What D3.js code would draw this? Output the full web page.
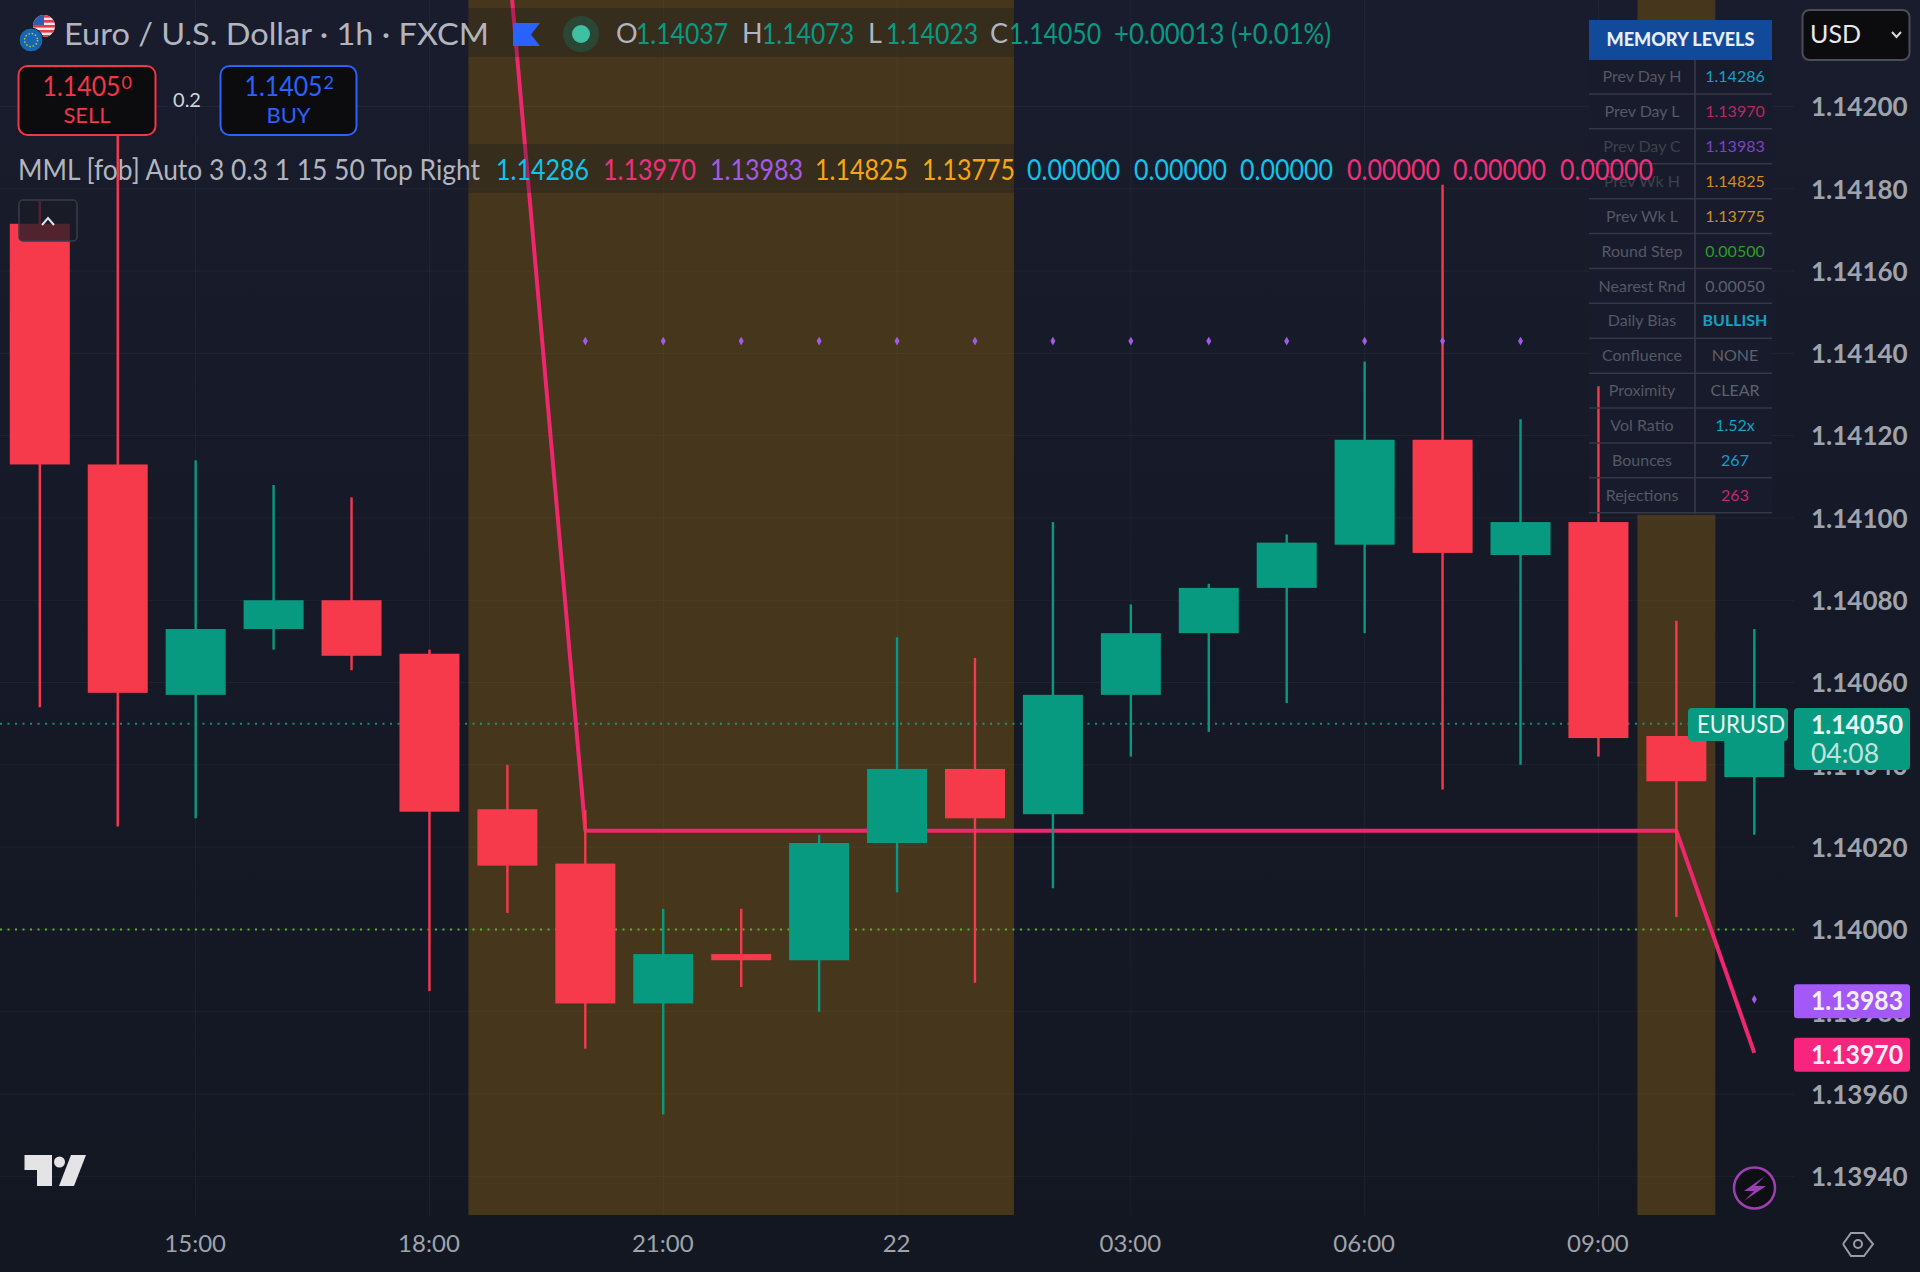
<!DOCTYPE html>
<html>
<head>
<meta charset="utf-8">
<script src="https://cdnjs.cloudflare.com/ajax/libs/d3/7.8.5/d3.min.js"></script>
<style>
  html, body { margin: 0; padding: 0; background: #131722; }
  svg { display: block; font-family: "Lato", "Noto Sans", sans-serif; }
</style>
</head>
<body>
<div id="chart"></div>
<script>
const hours = ["13:00","14:00","15:00","16:00","17:00","18:00","19:00","20:00","21:00","22:00","23:00","22","01:00","02:00","03:00","04:00","05:00","06:00","07:00","08:00","09:00","10:00","11:00"];
const opens  = [1.141715,1.14113,1.14057,1.14073,1.14080,1.14067,1.140292,1.14016,1.13982,1.13994,1.139925,1.14021,1.14039,1.14028,1.14057,1.14072,1.14083,1.140935,1.14119,1.14091,1.14099,1.14047,1.14037];
const highs  = [1.14177,1.14193,1.14114,1.14108,1.14105,1.14068,1.14040,1.14029,1.14005,1.14005,1.14023,1.14071,1.14066,1.14099,1.14079,1.14084,1.14096,1.14138,1.14181,1.14124,1.14132,1.14075,1.14073];
const lows   = [1.14054,1.14025,1.14027,1.14068,1.14063,1.13985,1.14004,1.13971,1.13955,1.13986,1.13980,1.14009,1.13987,1.14010,1.14042,1.14048,1.14055,1.14072,1.14034,1.14040,1.14042,1.14003,1.14023];
const closes = [1.14113,1.140575,1.14073,1.14080,1.140665,1.140286,1.140155,1.13982,1.13994,1.139925,1.14021,1.14039,1.14027,1.14057,1.14072,1.14083,1.14094,1.14119,1.140915,1.14099,1.140465,1.14036,1.14050];

// prev day low step line, one value per bar from 19:00 on
const prevDayLow = [1.14239,1.14024,1.14024,1.14024,1.14024,1.14024,1.14024,1.14024,1.14024,1.14024,1.14024,1.14024,1.14024,1.14024,1.14024,1.14024,1.13970];
const prevDayLowStart = 6;
// prev day close dots
const prevDayClose = [[7,1.14143],[8,1.14143],[9,1.14143],[10,1.14143],[11,1.14143],[12,1.14143],[13,1.14143],[14,1.14143],[15,1.14143],[16,1.14143],[17,1.14143],[18,1.14143],[19,1.14143],[22,1.13983]];
const sessions = [[6,12],[21,21]];

const priceTicks = [1.1394,1.1396,1.1398,1.14,1.1402,1.1404,1.1406,1.1408,1.141,1.1412,1.1414,1.1416,1.1418,1.142];
const timeTicks = ["15:00","18:00","21:00","22","03:00","06:00","09:00"];
const lastPrice = 1.1405;
const roundLevel = 1.14;

const legendOhlc = [["O","1.14037"],["H","1.14073"],["L","1.14023"],["C","1.14050"]];
const legendValues = ["1.14286","1.13970","1.13983","1.14825","1.13775","0.00000","0.00000","0.00000","0.00000","0.00000","0.00000"];
const legendColors = ["#10c4e8","#f0307c","#a45ae8","#f8a513","#f8a513","#10c4e8","#10c4e8","#10c4e8","#f0307c","#f0307c","#f0307c"];
const tableLabels = ["Prev Day H","Prev Day L","Prev Day C","Prev Wk H","Prev Wk L","Round Step","Nearest Rnd","Daily Bias","Confluence","Proximity","Vol Ratio","Bounces","Rejections"];
const tableValues = ["1.14286","1.13970","1.13983","1.14825","1.13775","0.00500","0.00050","BULLISH","NONE","CLEAR","1.52x","267","263"];
const tableColors = ["#0fa3c4","#b52a62","#7d42c4","#d0901a","#d0901a","#2f9c2a","#5d616e","#0fa3c4","#5d616e","#5d616e","#0fa3c4","#0f9fd0","#c02a70"];

const width = 1920, height = 1272;
const plotRight = 1794, plotBottom = 1215;
const up = "#089981", down = "#f63a4b";

const svg = d3.select("#chart").append("svg").attr("width", width).attr("height", height);

const x = d3.scalePoint().domain(hours).range([39.8, 1754.3]);
const y = d3.scaleLinear().domain([1.14, 1.142]).range([929.4, 106.5]);
const step = x.step();
const bodyW = 60;

const defs = svg.append("defs");
const grad = defs.append("linearGradient").attr("id", "bg").attr("x1", 0).attr("x2", 0).attr("y1", 0).attr("y2", 1);
grad.append("stop").attr("offset", 0).attr("stop-color", "#191c2c");
grad.append("stop").attr("offset", 1).attr("stop-color", "#121722");
defs.append("clipPath").attr("id", "plot").append("rect").attr("width", plotRight).attr("height", plotBottom);
defs.append("clipPath").attr("id", "usflag").append("circle").attr("cx", 44).attr("cy", 26).attr("r", 11);

svg.append("rect").attr("width", width).attr("height", height).attr("fill", "url(#bg)");

// session bands
svg.append("g").selectAll("rect").data(sessions).enter().append("rect")
  .attr("x", d => x(hours[d[0]]) - step / 2)
  .attr("width", d => (d[1] - d[0] + 1) * step)
  .attr("y", 0).attr("height", plotBottom)
  .attr("fill", "#45361c");

// grid
const grid = svg.append("g").attr("stroke", "#ffffff").attr("stroke-opacity", 0.045);
grid.selectAll(".h").data(priceTicks).enter().append("line").attr("class", "h")
  .attr("x1", 0).attr("x2", plotRight).attr("y1", d => y(d)).attr("y2", d => y(d));
grid.selectAll(".v").data(timeTicks).enter().append("line").attr("class", "v")
  .attr("y1", 0).attr("y2", plotBottom).attr("x1", d => x(d)).attr("x2", d => x(d));

// table background sits under the candles
const tableX = 1589, tableW = 183, tableTop = 20, headH = 40, rowH = 34.9;
svg.append("rect").attr("x", tableX).attr("y", tableTop + headH).attr("width", tableW)
  .attr("height", rowH * tableLabels.length + 1).attr("fill", "#181b2b");

// dotted levels
svg.append("line").attr("x1", 0).attr("x2", 1688).attr("y1", y(lastPrice)).attr("y2", y(lastPrice))
  .attr("stroke", "#1fae94").attr("stroke-width", 2).attr("stroke-dasharray", "2 5.5").attr("opacity", 0.75);
svg.append("line").attr("x1", 0).attr("x2", plotRight).attr("y1", y(roundLevel)).attr("y2", y(roundLevel))
  .attr("stroke", "#5cb032").attr("stroke-width", 2).attr("stroke-dasharray", "2 5.5");

// prev day low line
const line = d3.line().x((d, i) => x(hours[i + prevDayLowStart])).y(d => y(d));
svg.append("path").datum(prevDayLow).attr("d", line).attr("clip-path", "url(#plot)")
  .attr("fill", "none").attr("stroke", "#f0266f").attr("stroke-width", 4).attr("stroke-linejoin", "round");

// candles
const bars = hours.map((h, i) => ({ h, o: opens[i], hi: highs[i], lo: lows[i], c: closes[i] }));
const candle = svg.append("g").selectAll("g").data(bars).enter().append("g")
  .attr("fill", d => d.c >= d.o ? up : down);
candle.append("rect").attr("x", d => x(d.h) - 1.2).attr("width", 2.4)
  .attr("y", d => y(d.hi)).attr("height", d => y(d.lo) - y(d.hi));
candle.append("rect").attr("x", d => x(d.h) - bodyW / 2).attr("width", bodyW)
  .attr("y", d => y(Math.max(d.o, d.c))).attr("height", d => Math.max(2, Math.abs(y(d.o) - y(d.c))));

// prev day close dots
svg.append("g").selectAll("path").data(prevDayClose).enter().append("path")
  .attr("d", d3.symbol(d3.symbolDiamond, 22))
  .attr("transform", d => `translate(${x(hours[d[0]])},${y(d[1])})`)
  .attr("fill", "#a45ae8");

function txt(g, px, py, str, color, size, w, anchor, weight) {
  const t = g.append("text").attr("x", px).attr("y", py).attr("dy", "0.35em")
    .attr("fill", color).attr("font-size", size).text(str);
  if (w) t.attr("textLength", w).attr("lengthAdjust", "spacingAndGlyphs");
  if (anchor) t.attr("text-anchor", anchor);
  if (weight) t.attr("font-weight", weight);
  return t;
}

// table
const table = svg.append("g");
table.append("rect").attr("x", tableX).attr("y", tableTop).attr("width", tableW).attr("height", headH).attr("fill", "#124a9b");
txt(table, tableX + tableW / 2, tableTop + headH / 2, "MEMORY LEVELS", "#e8edf8", 18, 148, "middle", 900);
table.append("line").attr("x1", 1695).attr("x2", 1695).attr("y1", tableTop + headH).attr("y2", tableTop + headH + rowH * tableLabels.length)
  .attr("stroke", "#3a3d4c").attr("stroke-width", 1.5);
tableLabels.forEach((lab, i) => {
  const cy = 76.5 + i * rowH;
  table.append("line").attr("x1", tableX).attr("x2", tableX + tableW).attr("y1", cy + rowH / 2).attr("y2", cy + rowH / 2)
    .attr("stroke", "#343745").attr("stroke-width", 1.5);
  txt(table, 1642, cy, lab, i === 2 || i === 3 ? "#3e414e" : "#555865", 16, null, "middle");
  txt(table, 1735, cy, tableValues[i], tableColors[i], 16, null, "middle", i === 7 ? 700 : 400);
});

// legend rows
const legend = svg.append("g");
const firstBand = sessions[0];
[[8, 49], [144, 49]].forEach(r => {
  legend.append("rect").attr("x", x(hours[firstBand[0]]) - step / 2).attr("y", r[0])
    .attr("width", (firstBand[1] - firstBand[0] + 1) * step).attr("height", r[1]).attr("fill", "#131722").attr("fill-opacity", 0.28);
});

// flags
const us = legend.append("g").attr("clip-path", "url(#usflag)");
us.append("rect").attr("x", 33).attr("y", 15).attr("width", 22).attr("height", 22).attr("fill", "#e8e8ee");
[15, 20, 25, 30, 35].forEach(s => us.append("rect").attr("x", 33).attr("y", s).attr("width", 22).attr("height", 2.6).attr("fill", "#e63946"));
us.append("rect").attr("x", 33).attr("y", 15).attr("width", 11).attr("height", 10).attr("fill", "#2d5fb0");
legend.append("circle").attr("cx", 31).attr("cy", 40).attr("r", 12).attr("fill", "#1667b0").attr("stroke", "#131722").attr("stroke-width", 1);
legend.append("circle").attr("cx", 31).attr("cy", 40).attr("r", 6.5).attr("fill", "none").attr("stroke", "#d8c84a").attr("stroke-width", 1.4).attr("stroke-dasharray", "1.4 2");

txt(legend, 64, 34, "Euro / U.S. Dollar · 1h · FXCM", "#b2b5be", 31, 425);
legend.append("path").attr("d", "M513 23 H540 L531 34.5 L540 46 H513 Z").attr("fill", "#2962ff");
legend.append("circle").attr("cx", 581).attr("cy", 34).attr("r", 18).attr("fill", "#089981").attr("fill-opacity", 0.25);
legend.append("circle").attr("cx", 581).attr("cy", 34).attr("r", 9).attr("fill", "#3fc0a2");

const ohlcX = [[616, 636], [742, 762], [868, 886], [990, 1009]];
legendOhlc.forEach((d, i) => {
  txt(legend, ohlcX[i][0], 34, d[0], "#b2b5be", 27);
  txt(legend, ohlcX[i][1], 34, d[1], up, 28, 92);
});
txt(legend, 1114, 34, "+0.00013 (+0.01%)", up, 28, 217);

txt(legend, 18, 170, "MML [fob] Auto 3 0.3 1 15 50 Top Right", "#b2b5be", 28, 462);
const valueX = [496, 603, 710, 815, 922, 1027, 1134, 1240, 1347, 1453, 1560];
legendValues.forEach((v, i) => txt(legend, valueX[i], 170, v, legendColors[i], 28, 93));

// order buttons
const buttons = [
  { x: 18.5, w: 137, color: "#f23645", price: "1.1405", sup: "0", label: "SELL" },
  { x: 220.5, w: 136, color: "#2962ff", price: "1.1405", sup: "2", label: "BUY" }
];
buttons.forEach(b => {
  const g = legend.append("g");
  g.append("rect").attr("x", b.x).attr("y", 66).attr("width", b.w).attr("height", 69).attr("rx", 9)
    .attr("fill", "#0c0c0f").attr("stroke", b.color).attr("stroke-width", 2);
  txt(g, b.x + 24, 87, b.price, b.color, 26, 78);
  txt(g, b.x + 103, 83, b.sup, b.color, 18);
  txt(g, b.x + b.w / 2, 115, b.label, b.color, 22, null, "middle");
});
txt(legend, 187, 100, "0.2", "#d1d4dc", 20, null, "middle");

// collapse button
legend.append("rect").attr("x", 19).attr("y", 200).attr("width", 58).attr("height", 41).attr("rx", 4)
  .attr("fill", "#1a1c26").attr("fill-opacity", 0.75).attr("stroke", "#3a3d48").attr("stroke-width", 1.5);
legend.append("path").attr("d", "M42 225 L48 218 L54 225").attr("fill", "none").attr("stroke", "#e0e3eb").attr("stroke-width", 2);

// axes
const priceAxis = d3.axisRight(y).tickValues(priceTicks).tickFormat(d => d.toFixed(5)).tickSize(0).tickPadding(0);
const pa = svg.append("g").attr("transform", "translate(1811,1)").call(priceAxis);
pa.select(".domain").remove();
pa.selectAll("text").attr("fill", "#a0a3ac").attr("font-size", 26).attr("font-weight", 700).attr("font-family", "Lato");

const timeAxis = d3.axisBottom(x).tickValues(timeTicks).tickSize(0).tickPadding(0);
const ta = svg.append("g").attr("transform", "translate(-1,1234.5)").call(timeAxis);
ta.select(".domain").remove();
ta.selectAll("text").attr("fill", "#a0a3ac").attr("font-size", 24).attr("font-family", "Lato");

// last price and level labels
const tags = svg.append("g");
tags.append("rect").attr("x", 1688).attr("y", 708).attr("width", 100).attr("height", 33).attr("rx", 4).attr("fill", up);
txt(tags, 1697, y(lastPrice) + 1, "EURUSD", "#e6f5f1", 25, 88);
tags.append("rect").attr("x", 1794).attr("y", 708).attr("width", 116).attr("height", 62).attr("rx", 4).attr("fill", up);
txt(tags, 1811, y(lastPrice) + 1, "1.14050", "#e6f5f1", 26, 92, null, 700);
txt(tags, 1811, 754, "04:08", "#bfe3da", 26, 68);
const levelTags = [[1.13983, "#a259f7"], [1.1397, "#f7257d"]];
levelTags.forEach(l => {
  tags.append("rect").attr("x", 1794).attr("y", y(l[0]) - 15).attr("width", 116).attr("height", 34).attr("rx", 3).attr("fill", l[1]);
  txt(tags, 1811, y(l[0]) + 2, l[0].toFixed(5), "#f4f0fa", 26, 92, null, 700);
});

// currency select
svg.append("rect").attr("x", 1802.5).attr("y", 10).attr("width", 107).attr("height", 50).attr("rx", 7)
  .attr("fill", "#0c0c0f").attr("stroke", "#4a4d55").attr("stroke-width", 2);
txt(svg, 1810, 34, "USD", "#e8e8ec", 25);
svg.append("path").attr("d", "M1892 32 L1896.5 37 L1901 32").attr("fill", "none").attr("stroke", "#d8d8dc").attr("stroke-width", 2);

// logo, lightning and settings icons
const logo = svg.append("g").attr("fill", "#e4e4e6");
logo.append("path").attr("d", "M24.5 1155 H52 V1186 H37 V1170 H24.5 Z");
logo.append("circle").attr("cx", 59.5).attr("cy", 1162).attr("r", 5.5);
logo.append("path").attr("d", "M71 1155 H86 L74 1186 H59 Z");

svg.append("circle").attr("cx", 1754.5).attr("cy", 1188).attr("r", 20.5).attr("fill", "#0d0f14").attr("stroke", "#9c3fb0").attr("stroke-width", 2.5);
svg.append("path").attr("d", "M1765 1176 L1744 1191 H1754 L1744 1201 L1766 1186 H1755 Z").attr("fill", "#9c3fb0");

svg.append("path").attr("d", d3.line()([[1843,1244],[1851,1233],[1864,1233],[1873,1244],[1864,1256],[1851,1256],[1843,1244]]))
  .attr("fill", "none").attr("stroke", "#9a9da6").attr("stroke-width", 2);
svg.append("circle").attr("cx", 1858).attr("cy", 1244).attr("r", 4).attr("fill", "none").attr("stroke", "#9a9da6").attr("stroke-width", 2);
</script>
</body>
</html>
